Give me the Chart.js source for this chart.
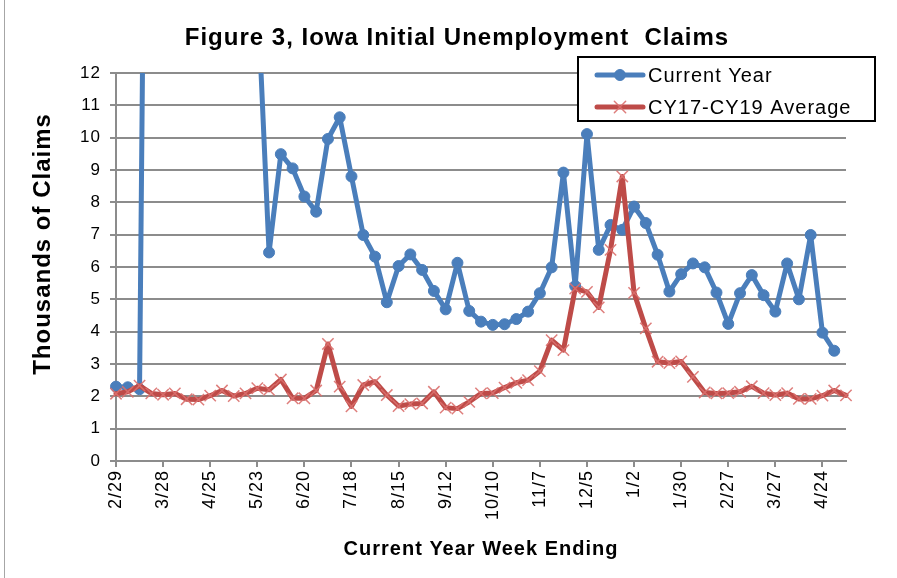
<!DOCTYPE html>
<html>
<head>
<meta charset="utf-8">
<script src="https://cdn.jsdelivr.net/npm/chart.js@4.4.0/dist/chart.umd.min.js"></script>
<style>
  html, body { margin: 0; padding: 0; background: #fff; }
  #wrap { width: 897px; height: 578px; }
</style>
</head>
<body>
<div id="wrap"><canvas id="claims" width="897" height="578"></canvas></div>
<script>
// week ending dates, 2/29/2020 .. 5/8/2021
const weekLabels = [
  '2/29', '3/7', '3/14', '3/21', '3/28', '4/4', '4/11', '4/18', '4/25', '5/2', '5/9', '5/16',
  '5/23', '5/30', '6/6', '6/13', '6/20', '6/27', '7/4', '7/11', '7/18', '7/25', '8/1', '8/8',
  '8/15', '8/22', '8/29', '9/5', '9/12', '9/19', '9/26', '10/3', '10/10', '10/17', '10/24', '10/31',
  '11/7', '11/14', '11/21', '11/28', '12/5', '12/12', '12/19', '12/26', '1/2', '1/9', '1/16', '1/23',
  '1/30', '2/6', '2/13', '2/20', '2/27', '3/6', '3/13', '3/20', '3/27', '4/3', '4/10', '4/17',
  '4/24', '5/1', '5/8'
];

// thousands of claims
const currentYear = [
  2.30, 2.28, 2.22, 41.9, 58.5, 64.2, 52.4, 45.0, 36.5, 31.6, 26.5, 21.0,
  14.6, 6.45, 9.49, 9.05, 8.18, 7.71, 9.96, 10.63, 8.80, 6.99, 6.32, 4.91,
  6.03, 6.39, 5.91, 5.26, 4.69, 6.13, 4.64, 4.31, 4.21, 4.23, 4.39, 4.62,
  5.19, 5.99, 8.92, 5.41, 10.11, 6.53, 7.30, 7.15, 7.87, 7.36, 6.38, 5.24,
  5.78, 6.11, 5.99, 5.21, 4.24, 5.19, 5.75, 5.13, 4.62, 6.11, 5.00, 6.99,
  3.97, 3.41
];

const cy17to19Avg = [
  2.08, 2.14, 2.33, 2.09, 2.05, 2.09, 1.91, 1.90, 2.02, 2.18, 2.01, 2.09,
  2.25, 2.20, 2.52, 1.94, 1.94, 2.18, 3.62, 2.30, 1.69, 2.35, 2.45, 2.04,
  1.70, 1.76, 1.78, 2.14, 1.65, 1.62, 1.83, 2.09, 2.10, 2.27, 2.42, 2.50,
  2.78, 3.74, 3.43, 5.33, 5.23, 4.75, 6.53, 8.80, 5.20, 4.10, 3.07, 3.03,
  3.08, 2.60, 2.12, 2.09, 2.10, 2.14, 2.31, 2.10, 2.04, 2.10, 1.92, 1.92,
  2.02, 2.18, 2.03
];

const seriesNames = ['Current Year', 'CY17-CY19 Average'];
const blue = '#4a7ebb';
const red = '#be4b48';
const crossPink = 'rgba(218,112,110,0.9)';
const axisGrey = '#8c8c8c';
const family = "'Liberation Sans', Arial, sans-serif";

Chart.defaults.font.family = family;

const decor = {
  id: 'decor',
  beforeDraw(chart) {
    const ctx = chart.ctx;
    ctx.letterSpacing = '1px';
    ctx.save();
    ctx.fillStyle = '#fff';
    ctx.fillRect(0, 0, chart.width, chart.height);
    ctx.restore();
  },
  afterDraw(chart) {
    const ctx = chart.ctx;
    ctx.save();
    ctx.fillStyle = '#000';
    ctx.textBaseline = 'middle';

    // title
    ctx.textAlign = 'center';
    ctx.font = 'bold 24px ' + family;
    ctx.fillText('Figure 3, Iowa Initial Unemployment  Claims', 457, 38);

    // y axis title
    ctx.save();
    ctx.translate(43, 244);
    ctx.rotate(-Math.PI / 2);
    ctx.font = 'bold 24px ' + family;
    ctx.fillText('Thousands of Claims', 0, 0);
    ctx.restore();

    // legend box
    ctx.fillStyle = '#fff';
    ctx.fillRect(578, 57, 297, 64);
    ctx.strokeStyle = '#000';
    ctx.lineWidth = 2;
    ctx.strokeRect(578, 57, 297, 64);

    const rows = [
      { y: 75, color: blue, style: 'circle', radius: 5.5, edge: blue, bw: 1 },
      { y: 107, color: red, style: 'crossRot', radius: 8, edge: crossPink, bw: 1.5 }
    ];
    rows.forEach((r, i) => {
      ctx.strokeStyle = r.color;
      ctx.lineWidth = 5;
      ctx.lineCap = 'round';
      ctx.beginPath();
      ctx.moveTo(597, r.y);
      ctx.lineTo(643, r.y);
      ctx.stroke();
      ctx.fillStyle = r.color;
      ctx.strokeStyle = r.edge;
      ctx.lineWidth = r.bw;
      Chart.helpers.drawPoint(ctx, { pointStyle: r.style, radius: r.radius, rotation: 0, borderWidth: r.bw }, 620, r.y);
      ctx.fillStyle = '#000';
      ctx.textAlign = 'left';
      ctx.font = '20px ' + family;
      ctx.fillText(seriesNames[i], 648, r.y + 1);
    });

    // chart frame edge
    ctx.strokeStyle = '#a6a6a6';
    ctx.lineWidth = 1;
    ctx.beginPath();
    ctx.moveTo(4.5, 0);
    ctx.lineTo(4.5, chart.height);
    ctx.stroke();
    ctx.restore();
  }
};

new Chart(document.getElementById('claims'), {
  type: 'line',
  data: {
    labels: weekLabels,
    datasets: [
      {
        label: seriesNames[0],
        data: currentYear,
        order: 1,
        borderColor: blue,
        backgroundColor: blue,
        borderWidth: 5,
        borderJoinStyle: 'round',
        borderCapStyle: 'round',
        pointStyle: 'circle',
        pointRadius: 5.5,
        pointBackgroundColor: blue,
        pointBorderColor: blue,
        pointBorderWidth: 1,
        tension: 0,
        clip: { left: 10, top: 0, right: 10, bottom: 10 }
      },
      {
        label: seriesNames[1],
        data: cy17to19Avg,
        order: 0,
        borderColor: red,
        backgroundColor: red,
        borderWidth: 5,
        borderJoinStyle: 'round',
        borderCapStyle: 'round',
        pointStyle: 'crossRot',
        pointRadius: 8,
        pointBorderColor: crossPink,
        pointBorderWidth: 1.5,
        tension: 0,
        clip: { left: 10, top: 0, right: 14, bottom: 10 }
      }
    ]
  },
  options: {
    responsive: false,
    animation: false,
    devicePixelRatio: 1,
    layout: { padding: { left: 0, top: 73, right: 51, bottom: 0 } },
    plugins: {
      legend: { display: false },
      title: { display: false },
      tooltip: { enabled: false }
    },
    scales: {
      x: {
        type: 'category',
        offset: false,
        afterFit(scale) { scale.height = 117; },
        ticks: {
          autoSkip: false,
          maxRotation: 90,
          minRotation: 90,
          padding: 3,
          color: '#000',
          font: { size: 18 },
          callback: (v, i) => (i % 4 === 0 ? weekLabels[i] : '')
        },
        grid: {
          drawOnChartArea: false,
          drawTicks: true,
          tickLength: 6,
          lineWidth: 2,
          color: axisGrey,
          tickColor: c => (c.index % 4 === 0 ? axisGrey : 'rgba(0,0,0,0)')
        },
        border: { color: axisGrey, width: 2 },
        title: {
          display: true,
          text: 'Current Year Week Ending',
          color: '#000',
          font: { size: 20, weight: 'bold' },
          padding: { top: 0, bottom: 17 }
        }
      },
      y: {
        min: 0,
        max: 12,
        afterFit(scale) { scale.width = 116; },
        ticks: {
          stepSize: 1,
          color: '#000',
          font: { size: 17 },
          padding: 9
        },
        grid: {
          color: axisGrey,
          lineWidth: 2,
          tickLength: 6
        },
        border: { color: axisGrey, width: 2 }
      }
    }
  },
  plugins: [decor]
});
</script>
</body>
</html>
